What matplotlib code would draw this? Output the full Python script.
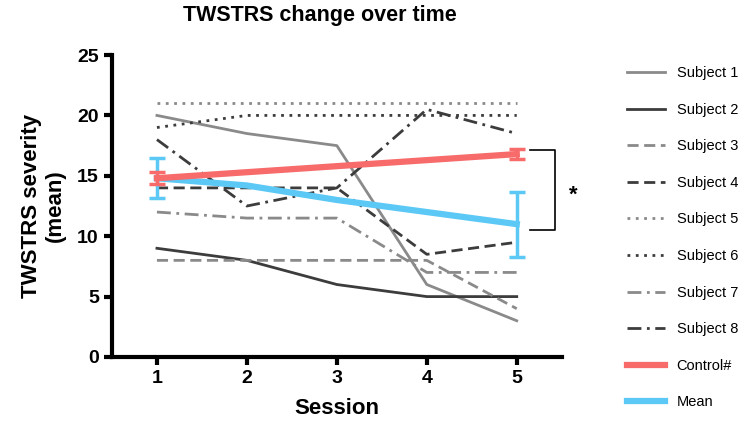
import numpy as np
import matplotlib
matplotlib.use("Agg")
import matplotlib.pyplot as plt
from matplotlib.lines import Line2D

plt.rcParams['font.family'] = ['Liberation Sans', 'DejaVu Sans']

sessions = [1, 2, 3, 4, 5]
subjects = {
    'Subject 1': [20, 18.5, 17.5, 6, 3],
    'Subject 2': [9, 8, 6, 5, 5],
    'Subject 3': [8, 8, 8, 8, 4],
    'Subject 4': [14, 14, 14, 8.5, 9.5],
    'Subject 5': [21, 21, 21, 21, 21],
    'Subject 6': [19, 20, 20, 20, 20],
    'Subject 7': [12, 11.5, 11.5, 7, 7],
    'Subject 8': [18, 12.5, 14, 20.5, 18.5],
}
control_sessions = [1, 5]
control_mean = [14.8, 16.8]
control_err = [0.5, 0.4]
mean_vals = [14.8, 14.2, 13.0, 12.0, 11.0]
mean_err = [1.65, 0, 0, 0, 2.7]

gray = '#8a8a8a'
dark = '#3c3c3c'
red = '#f76b6b'
blue = '#5bc8f6'
styles = [
    (gray, '-'), (dark, '-'),
    (gray, (0, (4, 2))), (dark, (0, (4, 2))),
    (gray, (0, (1, 2))), (dark, (0, (1, 2))),
    (gray, (0, (5, 2, 1, 2))), (dark, (0, (5, 2, 1, 2))),
]

fig = plt.figure(figsize=(7.44, 4.30), dpi=100)
ax = fig.add_axes([0.1505, 0.1698, 0.6045, 0.7022])

handles = []
for (name, vals), (c, ls) in zip(subjects.items(), styles):
    h, = ax.plot(sessions, vals, color=c, linestyle=ls, lw=2, label=name)
    handles.append(h)

err_idx = [0, 4]
ax.plot(sessions, mean_vals, color=blue, lw=4.5)
ax.errorbar([sessions[i] for i in err_idx], [mean_vals[i] for i in err_idx],
            yerr=[mean_err[i] for i in err_idx], fmt='none', ecolor=blue,
            elinewidth=2.5, capsize=6, capthick=2.5)
ax.errorbar(control_sessions, control_mean, yerr=control_err, color=red,
            lw=4.5, elinewidth=2.5, capsize=6, capthick=2.5)

handles.append(Line2D([], [], color=red, lw=4.5, label='Control#'))
handles.append(Line2D([], [], color=blue, lw=4.5, label='Mean'))

# significance bracket
ax.plot([5.15, 5.42, 5.42, 5.15], [17.1, 17.1, 10.5, 10.5], color='black',
        lw=1.2, clip_on=False)
ax.text(5.63, 13.4, '*', fontsize=16, fontweight='bold', ha='center',
        va='center', clip_on=False)

ax.set_xlim(0.5, 5.5)
ax.set_ylim(0, 25)
ax.set_xticks(sessions)
ax.set_yticks([0, 5, 10, 15, 20, 25])
for s in ['top', 'right']:
    ax.spines[s].set_visible(False)
for s in ['left', 'bottom']:
    ax.spines[s].set_linewidth(3)
ax.tick_params(width=3, length=6, labelsize=14)
for lab in ax.get_xticklabels() + ax.get_yticklabels():
    lab.set_fontweight('bold')

ax.set_xlabel('Session', fontsize=16, fontweight='bold', labelpad=8)
ax.set_ylabel('TWSTRS severity\n(mean)', fontsize=16, fontweight='bold',
              labelpad=8)
fig.text(0.43, 0.965, 'TWSTRS change over time', fontsize=15.5,
         fontweight='bold', ha='center', va='center')

fig.legend(handles=handles, loc='upper left',
           bbox_to_anchor=(0.835, 0.86), frameon=False, fontsize=10.5,
           handlelength=2.6, labelspacing=1.55, borderaxespad=0)

fig.savefig('out.png', dpi=100)
